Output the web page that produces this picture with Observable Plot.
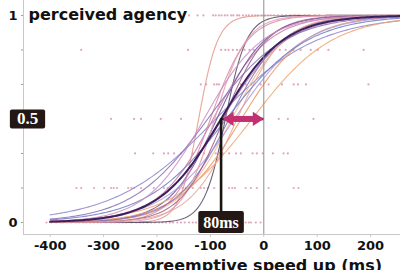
<!DOCTYPE html>
<html><head><meta charset="utf-8">
<script src="https://cdn.jsdelivr.net/npm/d3@7"></script>
<script src="https://cdn.jsdelivr.net/npm/@observablehq/plot@0.6"></script>
<style>body{margin:0;background:#fff;} #chart svg{display:block;}</style>
</head><body><div id="chart"></div>
<script>
// ---- data ----
const participants = ["P1","P2","P3","P4","P5","P6","P7","P8","P9","P10","P11","P12","P13","P14","P15","P16","P17","P18"];
const fitMidpoints = [-122,-72,-90,-95,-88,-22,-42,-60,-100,-78,-65,-55,-92,-105,-75,-50,-70,-112]; // ms at p = 0.5
const fitScales    = [18,20,95,52,45,75,60,50,35,60,50,66,30,72,40,44,76,55];                  // logistic spread (ms)
const meanMidpoint = -80;
const meanScale = 58;
const threshold = -80;          // mean 50% point (80 ms before)
const halfLevel = 0.5;
const responseLevels = [0, 1/6, 2/6, 3/6, 4/6, 5/6, 1];
const xTicks = [-400, -300, -200, -100, 0, 100, 200];
const speedRange = [-400, 256];

// individual responses (ms) per response level
const responses0 = [-407,-398,-389,-380,-376,-368,-361,-352,-346,-338,-333,-325,-318,-311,-305,-296,-286,-279,-271,-264,-258,-248,-239,-232,-226,-218,-211,-204,-196,-190,-183,-176,-170,-162,-155,-148,-140,-133,-127,-34,-28,-24,-15,-6];
const responses1 = [-351,-342,-318,-299,-286,-281,-275,-254,-248,-243,-230,-206,-187,-180,-174,-159,-152,-146,-133,-118,-112,-105,-93,-80,-65,-59,-54,-34,-24,-13,9,56,65];
const responses2 = [-241,-207,-187,-179,-168,-155,-133,-123,-112,-90,-77,-65,-52,-43,-21,-13,-2,17,37,45];
const responses3 = [-286,-243,-230,-193,-155,28,45,93];
const responses4 = [-118,-108,-93,-88,-84,-43,-34,-24,-6,9,34,56,64,79,196];
const responses5 = [-342,-142,-80,-72,-66,-58,-50,-44,-36,-27,-19,13,30,41,55,69,88,101,121,187];
const responses6 = [-140,-124,-113,-95,-90,-84,-79,-73,-68,-61,-57,-50,-46,-39,-33,-28,-22,-16,-11,-4,2,8,13,19,27,34,42,49,58,66,77,85,96,104,117,125];

// ---- styles ----
const palette = ["#e3958a","#4b4a62","#8d86c9","#c97ba3","#6c4f9e","#f0a46e","#ec9462","#f4b892","#d987a8","#b57cab","#7b71ba","#a89bd8","#e39aae","#8670b4","#9b5d8c","#e8a497","#6f7cc2","#c98cc0"];

// ---- derived tables ----
const logistic = (x, m, s) => 1 / (1 + Math.exp(-(x - m) / s));
const grid = d3.range(speedRange[0], speedRange[1] + 0.1, 4);
const curves = participants.flatMap((id, i) =>
  grid.map(x => ({id, x, p: logistic(x, fitMidpoints[i], fitScales[i])})));
const meanCurve = grid.map(x => ({x, p: logistic(x, meanMidpoint, meanScale)}));
const responseRows = [responses0,responses1,responses2,responses3,responses4,responses5,responses6];
const dots = responseRows.flatMap((row, k) => row.map(x => ({x, level: responseLevels[k]})));

const headRight = {draw(ctx, size){ const r = Math.sqrt(size/Math.PI); ctx.moveTo(0,0); ctx.lineTo(-2*r,-1.3*r); ctx.lineTo(-2*r,1.3*r); ctx.closePath(); }};
const headLeft  = {draw(ctx, size){ const r = Math.sqrt(size/Math.PI); ctx.moveTo(0,0); ctx.lineTo(2*r,-1.3*r); ctx.lineTo(2*r,1.3*r); ctx.closePath(); }};

const plot = Plot.plot({
  width: 400, height: 270,
  marginLeft: 23, marginRight: 0, marginTop: 0, marginBottom: 36,
  x: {domain: [-450, 256]},
  y: {domain: [-0.058, 1.072]},
  color: {domain: participants, range: palette},
  style: {fontFamily: "DejaVu Sans", background: "white", overflow: "visible"},
  marks: [
    Plot.frame({anchor: "left", stroke: "#c8c8c8"}),
    Plot.frame({anchor: "bottom", stroke: "#c8c8c8"}),
    Plot.axisX({ticks: xTicks, tickSize: 3, tickPadding: 3, stroke: "#c8c8c8", fill: "#111", fontSize: 13, fontWeight: "bold", label: null,
      tickFormat: d => String(d)}),
    Plot.axisY({ticks: responseLevels, tickSize: 2, tickPadding: 4, stroke: "#999", fill: "#111", fontSize: 13, fontWeight: "bold", label: null,
      tickFormat: d => (d === 0 || d === 1) ? String(d) : ""}),
    Plot.dot(dots, {x: "x", y: "level", r: 1.1, fill: "#cf6a8f", fillOpacity: 0.6, stroke: "none"}),
    Plot.line(curves, {x: "x", y: "p", z: "id", stroke: "id", strokeWidth: 1.1, strokeOpacity: 0.85}),
    Plot.line(meanCurve, {x: "x", y: "p", stroke: "#3b1f5e", strokeWidth: 2}),
    Plot.ruleX([0], {stroke: "#8c8c8c", strokeWidth: 1}),
    Plot.ruleY([halfLevel], {x2: threshold, stroke: "#1a1412", strokeWidth: 2.6}),
    Plot.ruleX([threshold], {y1: responseLevels[0], y2: halfLevel, stroke: "#1a1412", strokeWidth: 2.6}),
    Plot.arrow([threshold], {x1: d => d, x2: () => 0, y1: () => halfLevel, y2: () => halfLevel, headLength: 0, inset: 8, stroke: "#c2306f", strokeWidth: 6, strokeLinecap: "butt"}),
    Plot.dot([threshold], {x: d => d, y: () => halfLevel, symbol: headLeft, r: 5.5, fill: "#c2306f", stroke: "none", dx: 1.5}),
    Plot.dot([0], {x: d => d, y: () => halfLevel, symbol: headRight, r: 5.5, fill: "#c2306f", stroke: "none"}),
    Plot.text([halfLevel], {y: d => d, frameAnchor: "left", dx: 4, textAnchor: "middle", text: d => String(d), fill: "white",
      fontFamily: "Liberation Serif", fontWeight: "bold", fontSize: 17, className: "boxed-a"}),
    Plot.text([threshold], {x: d => d, y: () => responseLevels[0], text: d => `${-d}ms`, fill: "white",
      fontFamily: "Liberation Serif", fontWeight: "bold", fontSize: 16, className: "boxed-b"}),
    Plot.text(["perceived agency"], {frameAnchor: "top-left", dx: 5, dy: 8, fontSize: 16, fontWeight: "bold", fill: "#111", textAnchor: "start"}),
    Plot.text(["preemptive speed up (ms)"], {frameAnchor: "bottom", dx: 51, dy: 25, fontSize: 16, fontWeight: "bold", fill: "#111", lineAnchor: "top"})
  ]
});
document.getElementById("chart").append(plot);

// dark label boxes behind the annotation texts
function box(selector, padX, padY) {
  d3.select(plot).selectAll(selector + " text").each(function() {
    const bb = this.getBBox();
    d3.select(this.parentNode).insert("rect", () => this)
      .attr("x", bb.x - padX).attr("y", bb.y - padY)
      .attr("width", bb.width + 2*padX).attr("height", bb.height + 2*padY)
      .attr("rx", 2).attr("fill", "#231816")
      .attr("transform", this.getAttribute("transform"));
  });
}
box("g.boxed-a", 7, 0);
box("g.boxed-b", 5, 2.5);
</script>
</body></html>
